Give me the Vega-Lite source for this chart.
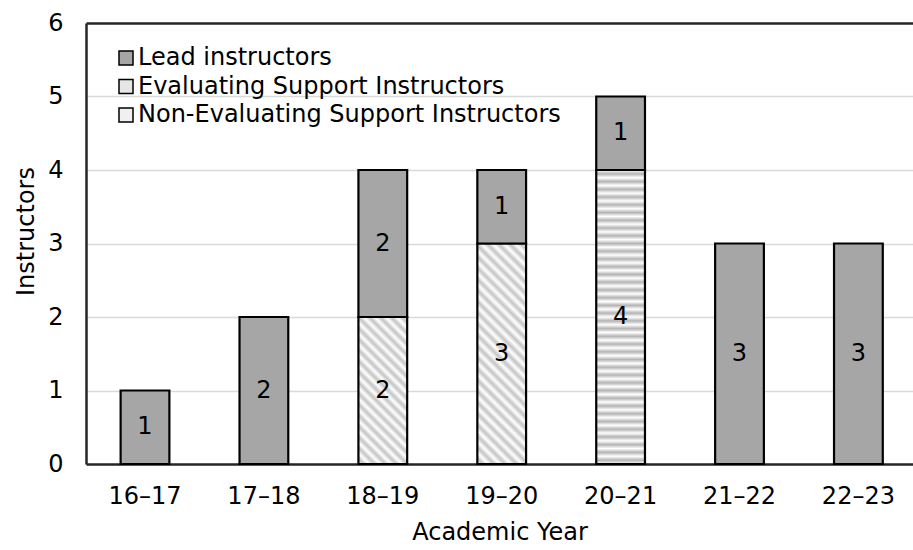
{
  "$schema": "https://vega.github.io/schema/vega-lite/v6.json",
  "width": 827,
  "height": 441,
  "autosize": "none",
  "padding": {"left": 86, "top": 23, "right": 0, "bottom": 86},
  "background": "#ffffff",
  "config": {
    "font": "DejaVu Sans",
    "view": {"stroke": null},
    "axis": {"labelFont": "DejaVu Sans", "titleFont": "DejaVu Sans", "labelColor": "#000000", "titleColor": "#000000", "labelFontSize": 24, "titleFontSize": 24, "titleFontWeight": "normal"},
    "legend": {"labelFont": "DejaVu Sans", "labelFontSize": 24, "labelColor": "#000000", "labelLimit": 0}
  },
  "data": {
    "values": [
      {"Year": "16–17", "Series": "Lead instructors", "Count": 1},
      {"Year": "17–18", "Series": "Lead instructors", "Count": 2},
      {"Year": "18–19", "Series": "Non-Evaluating Support Instructors", "Count": 2},
      {"Year": "18–19", "Series": "Lead instructors", "Count": 2},
      {"Year": "19–20", "Series": "Non-Evaluating Support Instructors", "Count": 3},
      {"Year": "19–20", "Series": "Lead instructors", "Count": 1},
      {"Year": "20–21", "Series": "Evaluating Support Instructors", "Count": 4},
      {"Year": "20–21", "Series": "Lead instructors", "Count": 1},
      {"Year": "21–22", "Series": "Lead instructors", "Count": 3},
      {"Year": "22–23", "Series": "Lead instructors", "Count": 3}
    ]
  },
  "transform": [
    {"calculate": "indexof(['Non-Evaluating Support Instructors','Evaluating Support Instructors','Lead instructors'], datum.Series)", "as": "StackOrder"},
    {"stack": "Count", "groupby": ["Year"], "sort": [{"field": "StackOrder", "order": "ascending"}], "as": ["lo", "hi"]},
    {"calculate": "(datum.lo + datum.hi) / 2", "as": "mid"}
  ],
  "encoding": {
    "x": {
      "field": "Year",
      "type": "nominal",
      "sort": null,
      "scale": {"paddingInner": 0.59, "paddingOuter": 0.2727, "align": 0.534},
      "axis": {
        "title": "Academic Year",
        "labelAngle": 0,
        "ticks": false,
        "tickSize": 0,
        "labelPadding": 20,
        "domainColor": "#262626",
        "domainWidth": 2.5,
        "titleY": 68,
        "titleBaseline": "middle"
      }
    }
  },
  "layer": [
    {
      "mark": {"type": "bar", "stroke": "#000000", "strokeWidth": 2.2},
      "encoding": {
        "y": {
          "field": "lo",
          "type": "quantitative",
          "scale": {"domain": [0, 6], "nice": false},
          "axis": {
            "title": "Instructors",
            "values": [0, 1, 2, 3, 4, 5, 6],
            "format": "d",
            "ticks": false,
            "tickSize": 0,
            "labelPadding": 23,
            "domainColor": "#262626",
            "domainWidth": 2.5,
            "gridColor": {"condition": {"test": "datum.value === 6", "value": "#262626"}, "value": "#d9d9d9"},
            "gridWidth": {"condition": {"test": "datum.value === 6", "value": 2.5}, "value": 1.5},
            "titleX": -60,
            "titleY": 208,
            "titleBaseline": "middle"
          }
        },
        "y2": {"field": "hi"},
        "fill": {
          "field": "Series",
          "type": "nominal",
          "scale": {
            "domain": ["Lead instructors", "Evaluating Support Instructors", "Non-Evaluating Support Instructors"],
            "range": ["#a6a6a6", "#e6e6e6", "#f0f0f0"]
          },
          "legend": {
            "title": null,
            "orient": "none",
            "legendX": 28,
            "legendY": 23,
            "symbolType": "square",
            "symbolSize": 196,
            "symbolStrokeColor": "#000000",
            "symbolStrokeWidth": 1.5,
            "labelOffset": 0,
            "rowPadding": 4.5,
            "padding": 0,
            "labelLimit": 0
          },
          "condition": [
            {"test": "datum.Series === 'Evaluating Support Instructors'", "value": {"gradient": "linear", "x1": 0, "y1": 0, "x2": 0, "y2": 1, "stops": [
              {"offset": 0, "color": "#ffffff"}, {"offset": 0.01316, "color": "#b4b4b4"}, {"offset": 0.02632, "color": "#ffffff"}, {"offset": 0.03947, "color": "#b4b4b4"},
              {"offset": 0.05263, "color": "#ffffff"}, {"offset": 0.06579, "color": "#b4b4b4"}, {"offset": 0.07895, "color": "#ffffff"}, {"offset": 0.09211, "color": "#b4b4b4"},
              {"offset": 0.10526, "color": "#ffffff"}, {"offset": 0.11842, "color": "#b4b4b4"}, {"offset": 0.13158, "color": "#ffffff"}, {"offset": 0.14474, "color": "#b4b4b4"},
              {"offset": 0.15789, "color": "#ffffff"}, {"offset": 0.17105, "color": "#b4b4b4"}, {"offset": 0.18421, "color": "#ffffff"}, {"offset": 0.19737, "color": "#b4b4b4"},
              {"offset": 0.21053, "color": "#ffffff"}, {"offset": 0.22368, "color": "#b4b4b4"}, {"offset": 0.23684, "color": "#ffffff"}, {"offset": 0.25, "color": "#b4b4b4"},
              {"offset": 0.26316, "color": "#ffffff"}, {"offset": 0.27632, "color": "#b4b4b4"}, {"offset": 0.28947, "color": "#ffffff"}, {"offset": 0.30263, "color": "#b4b4b4"},
              {"offset": 0.31579, "color": "#ffffff"}, {"offset": 0.32895, "color": "#b4b4b4"}, {"offset": 0.34211, "color": "#ffffff"}, {"offset": 0.35526, "color": "#b4b4b4"},
              {"offset": 0.36842, "color": "#ffffff"}, {"offset": 0.38158, "color": "#b4b4b4"}, {"offset": 0.39474, "color": "#ffffff"}, {"offset": 0.40789, "color": "#b4b4b4"},
              {"offset": 0.42105, "color": "#ffffff"}, {"offset": 0.43421, "color": "#b4b4b4"}, {"offset": 0.44737, "color": "#ffffff"}, {"offset": 0.46053, "color": "#b4b4b4"},
              {"offset": 0.47368, "color": "#ffffff"}, {"offset": 0.48684, "color": "#b4b4b4"}, {"offset": 0.5, "color": "#ffffff"}, {"offset": 0.51316, "color": "#b4b4b4"},
              {"offset": 0.52632, "color": "#ffffff"}, {"offset": 0.53947, "color": "#b4b4b4"}, {"offset": 0.55263, "color": "#ffffff"}, {"offset": 0.56579, "color": "#b4b4b4"},
              {"offset": 0.57895, "color": "#ffffff"}, {"offset": 0.59211, "color": "#b4b4b4"}, {"offset": 0.60526, "color": "#ffffff"}, {"offset": 0.61842, "color": "#b4b4b4"},
              {"offset": 0.63158, "color": "#ffffff"}, {"offset": 0.64474, "color": "#b4b4b4"}, {"offset": 0.65789, "color": "#ffffff"}, {"offset": 0.67105, "color": "#b4b4b4"},
              {"offset": 0.68421, "color": "#ffffff"}, {"offset": 0.69737, "color": "#b4b4b4"}, {"offset": 0.71053, "color": "#ffffff"}, {"offset": 0.72368, "color": "#b4b4b4"},
              {"offset": 0.73684, "color": "#ffffff"}, {"offset": 0.75, "color": "#b4b4b4"}, {"offset": 0.76316, "color": "#ffffff"}, {"offset": 0.77632, "color": "#b4b4b4"},
              {"offset": 0.78947, "color": "#ffffff"}, {"offset": 0.80263, "color": "#b4b4b4"}, {"offset": 0.81579, "color": "#ffffff"}, {"offset": 0.82895, "color": "#b4b4b4"},
              {"offset": 0.84211, "color": "#ffffff"}, {"offset": 0.85526, "color": "#b4b4b4"}, {"offset": 0.86842, "color": "#ffffff"}, {"offset": 0.88158, "color": "#b4b4b4"},
              {"offset": 0.89474, "color": "#ffffff"}, {"offset": 0.90789, "color": "#b4b4b4"}, {"offset": 0.92105, "color": "#ffffff"}, {"offset": 0.93421, "color": "#b4b4b4"},
              {"offset": 0.94737, "color": "#ffffff"}, {"offset": 0.96053, "color": "#b4b4b4"}, {"offset": 0.97368, "color": "#ffffff"}, {"offset": 0.98684, "color": "#b4b4b4"},
              {"offset": 1, "color": "#ffffff"}
            ]}},
            {"test": "datum.Series === 'Non-Evaluating Support Instructors' && datum.Year === '18–19'", "value": {"gradient": "linear", "x1": 0, "y1": 1, "x2": 0.3974, "y2": -0.1997, "stops": [
              {"offset": 0, "color": "#ffffff"}, {"offset": 0.02778, "color": "#c4c4c4"}, {"offset": 0.05556, "color": "#ffffff"}, {"offset": 0.08333, "color": "#c4c4c4"},
              {"offset": 0.11111, "color": "#ffffff"}, {"offset": 0.13889, "color": "#c4c4c4"}, {"offset": 0.16667, "color": "#ffffff"}, {"offset": 0.19444, "color": "#c4c4c4"},
              {"offset": 0.22222, "color": "#ffffff"}, {"offset": 0.25, "color": "#c4c4c4"}, {"offset": 0.27778, "color": "#ffffff"}, {"offset": 0.30556, "color": "#c4c4c4"},
              {"offset": 0.33333, "color": "#ffffff"}, {"offset": 0.36111, "color": "#c4c4c4"}, {"offset": 0.38889, "color": "#ffffff"}, {"offset": 0.41667, "color": "#c4c4c4"},
              {"offset": 0.44444, "color": "#ffffff"}, {"offset": 0.47222, "color": "#c4c4c4"}, {"offset": 0.5, "color": "#ffffff"}, {"offset": 0.52778, "color": "#c4c4c4"},
              {"offset": 0.55556, "color": "#ffffff"}, {"offset": 0.58333, "color": "#c4c4c4"}, {"offset": 0.61111, "color": "#ffffff"}, {"offset": 0.63889, "color": "#c4c4c4"},
              {"offset": 0.66667, "color": "#ffffff"}, {"offset": 0.69444, "color": "#c4c4c4"}, {"offset": 0.72222, "color": "#ffffff"}, {"offset": 0.75, "color": "#c4c4c4"},
              {"offset": 0.77778, "color": "#ffffff"}, {"offset": 0.80556, "color": "#c4c4c4"}, {"offset": 0.83333, "color": "#ffffff"}, {"offset": 0.86111, "color": "#c4c4c4"},
              {"offset": 0.88889, "color": "#ffffff"}, {"offset": 0.91667, "color": "#c4c4c4"}, {"offset": 0.94444, "color": "#ffffff"}, {"offset": 0.97222, "color": "#c4c4c4"},
              {"offset": 1, "color": "#ffffff"}
            ]}},
            {"test": "datum.Series === 'Non-Evaluating Support Instructors' && datum.Year === '19–20'", "value": {"gradient": "linear", "x1": 0, "y1": 1, "x2": 0.2571, "y2": -0.164, "stops": [
              {"offset": 0, "color": "#ffffff"}, {"offset": 0.02083, "color": "#c4c4c4"}, {"offset": 0.04167, "color": "#ffffff"}, {"offset": 0.0625, "color": "#c4c4c4"},
              {"offset": 0.08333, "color": "#ffffff"}, {"offset": 0.10417, "color": "#c4c4c4"}, {"offset": 0.125, "color": "#ffffff"}, {"offset": 0.14583, "color": "#c4c4c4"},
              {"offset": 0.16667, "color": "#ffffff"}, {"offset": 0.1875, "color": "#c4c4c4"}, {"offset": 0.20833, "color": "#ffffff"}, {"offset": 0.22917, "color": "#c4c4c4"},
              {"offset": 0.25, "color": "#ffffff"}, {"offset": 0.27083, "color": "#c4c4c4"}, {"offset": 0.29167, "color": "#ffffff"}, {"offset": 0.3125, "color": "#c4c4c4"},
              {"offset": 0.33333, "color": "#ffffff"}, {"offset": 0.35417, "color": "#c4c4c4"}, {"offset": 0.375, "color": "#ffffff"}, {"offset": 0.39583, "color": "#c4c4c4"},
              {"offset": 0.41667, "color": "#ffffff"}, {"offset": 0.4375, "color": "#c4c4c4"}, {"offset": 0.45833, "color": "#ffffff"}, {"offset": 0.47917, "color": "#c4c4c4"},
              {"offset": 0.5, "color": "#ffffff"}, {"offset": 0.52083, "color": "#c4c4c4"}, {"offset": 0.54167, "color": "#ffffff"}, {"offset": 0.5625, "color": "#c4c4c4"},
              {"offset": 0.58333, "color": "#ffffff"}, {"offset": 0.60417, "color": "#c4c4c4"}, {"offset": 0.625, "color": "#ffffff"}, {"offset": 0.64583, "color": "#c4c4c4"},
              {"offset": 0.66667, "color": "#ffffff"}, {"offset": 0.6875, "color": "#c4c4c4"}, {"offset": 0.70833, "color": "#ffffff"}, {"offset": 0.72917, "color": "#c4c4c4"},
              {"offset": 0.75, "color": "#ffffff"}, {"offset": 0.77083, "color": "#c4c4c4"}, {"offset": 0.79167, "color": "#ffffff"}, {"offset": 0.8125, "color": "#c4c4c4"},
              {"offset": 0.83333, "color": "#ffffff"}, {"offset": 0.85417, "color": "#c4c4c4"}, {"offset": 0.875, "color": "#ffffff"}, {"offset": 0.89583, "color": "#c4c4c4"},
              {"offset": 0.91667, "color": "#ffffff"}, {"offset": 0.9375, "color": "#c4c4c4"}, {"offset": 0.95833, "color": "#ffffff"}, {"offset": 0.97917, "color": "#c4c4c4"},
              {"offset": 1, "color": "#ffffff"}
            ]}}
          ]
        }
      }
    },
    {
      "mark": {"type": "text", "fontSize": 24, "color": "#000000", "baseline": "middle", "align": "center"},
      "encoding": {
        "y": {"field": "mid", "type": "quantitative"},
        "text": {"field": "Count", "type": "quantitative"}
      }
    }
  ]
}
